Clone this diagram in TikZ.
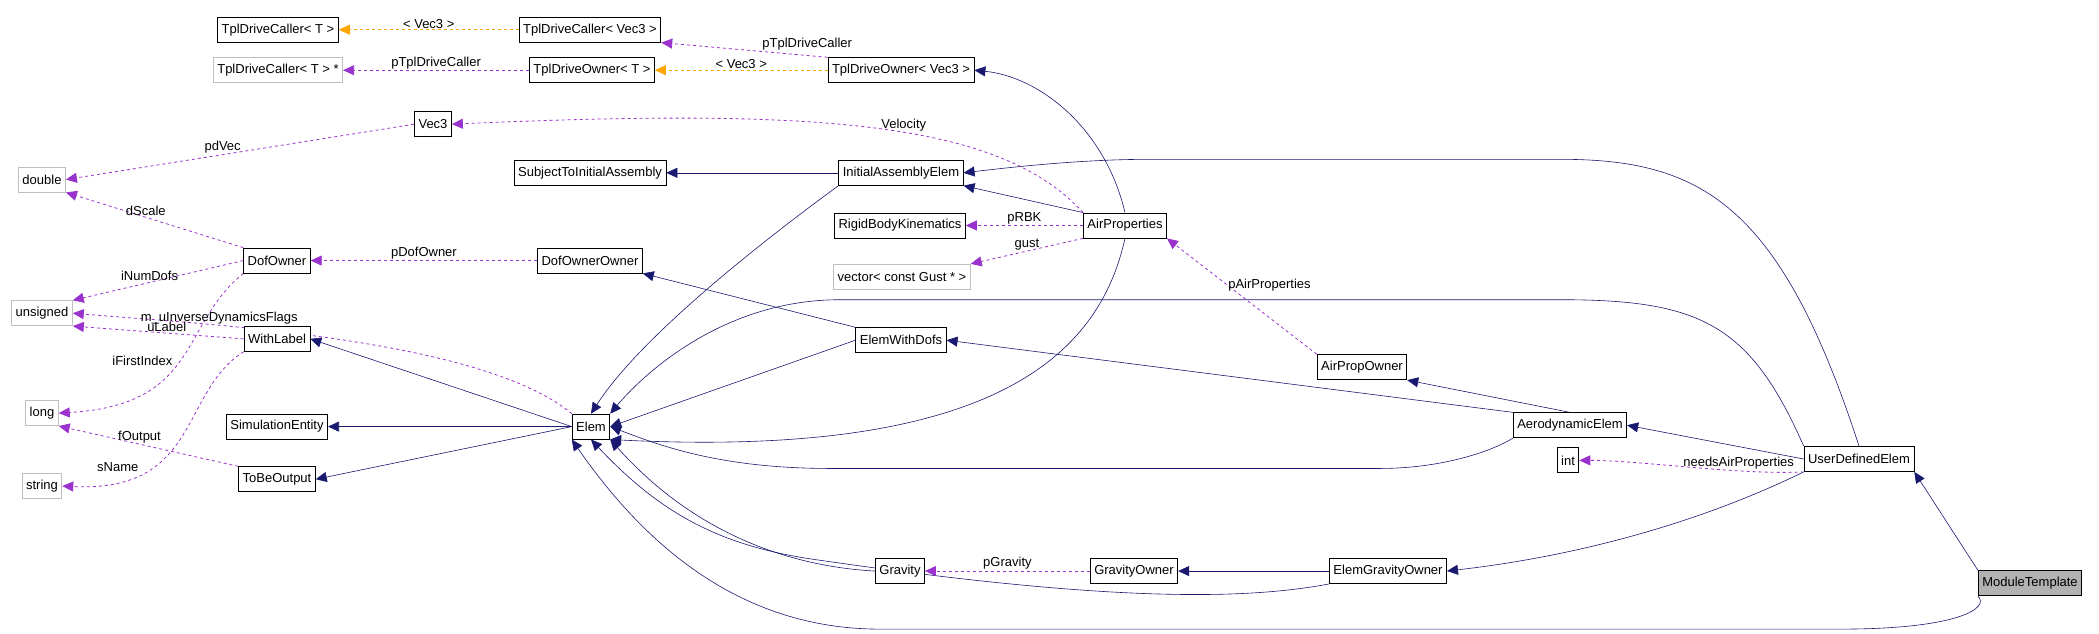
\documentclass[tikz,border=0pt]{standalone}
\usepackage{fontspec}
\setmainfont{Liberation Sans}
\usetikzlibrary{arrows.meta,positioning,backgrounds}
\definecolor{navyline}{HTML}{191970}
\definecolor{memline}{HTML}{9A32CD}
\definecolor{tplline}{HTML}{FFA500}
\begin{document}
\begin{tikzpicture}[x=1pt,y=-1.35pt,
    cls/.style={draw,thick,fill=white,font=\fontsize{13}{15}\selectfont,inner sep=4pt,minimum height=25pt},
    ext/.style={cls,draw=gray!50},
    main cls/.style={cls,fill=gray!60},
    inh/.style={draw=navyline,semithick,-{Triangle[length=11pt,width=10pt,fill=navyline]}},
    mem/.style={draw=memline,dashed,thick,-{Triangle[length=11pt,width=10pt,fill=memline]}},
    tpl/.style={draw=tplline,dashed,thick,-{Triangle[length=11pt,width=10pt,fill=tplline]}},
    lbl/.style={font=\fontsize{13}{15}\selectfont,inner sep=1pt}]
\useasboundingbox (0,0) rectangle (2099,469);

% classes
\node[cls] (tdcT) at (278,22) {TplDriveCaller< T >};
\node[cls] (tdcVec) at (590,22) {TplDriveCaller< Vec3 >};
\node[ext] (tdcTstar) at (278,52) {TplDriveCaller< T > *};
\node[cls] (tdoT) at (592,52) {TplDriveOwner< T >};
\node[cls] (tdoVec) at (901,52) {TplDriveOwner< Vec3 >};
\node[cls] (vec3) at (433,92) {Vec3};
\node[ext] (double) at (42,133) {double};
\node[cls] (subj) at (590,128) {SubjectToInitialAssembly};
\node[cls] (iae) at (901,128) {InitialAssemblyElem};
\node[cls] (rbk) at (900,167) {RigidBodyKinematics};
\node[cls] (airprop) at (1125,167) {AirProperties};
\node[ext] (gust) at (902,205) {vector< const Gust * >};
\node[cls] (dofown) at (277,193) {DofOwner};
\node[cls] (dofownown) at (590,193) {DofOwnerOwner};
\node[ext] (unsigned) at (42,232) {unsigned};
\node[cls] (withlabel) at (277,251) {WithLabel};
\node[cls] (ewd) at (901,252) {ElemWithDofs};
\node[cls] (apo) at (1362,272) {AirPropOwner};
\node[ext] (long) at (42,306) {long};
\node[cls] (simen) at (277,316) {SimulationEntity};
\node[cls] (elem) at (591,316) {Elem};
\node[cls] (aero) at (1570,315) {AerodynamicElem};
\node[cls] (ude) at (1859,340) {UserDefinedElem};
\node[cls] (int) at (1568,341) {int};
\node[cls] (tbo) at (277,355) {ToBeOutput};
\node[ext] (string) at (42,360) {string};
\node[cls] (gravity) at (900,423) {Gravity};
\node[cls] (gravown) at (1134,423) {GravityOwner};
\node[cls] (ego) at (1388,423) {ElemGravityOwner};
\node[main cls] (module) at (2030,432) {ModuleTemplate};

\begin{scope}[on background layer]
% inheritance
\draw[inh] (airprop.north) .. controls (1105,95) and (1040,57) .. (tdoVec.east);
\draw[inh] (iae) -- (subj);
\draw[inh] (airprop.north west) -- (iae.south east);
\draw[inh] (ude.north) .. controls (1780,150) and (1700,118) .. (1560,118) -- (1150,118) .. controls (1080,118) and (1010,124) .. (iae.east);
\draw[inh] (iae.south west) .. controls (760,180) and (640,250) .. (elem.north);
\draw[inh] (ewd.north west) -- (dofownown.south east);
\draw[inh] (ewd.west) -- (elem.east);
\draw[inh] (airprop.south) .. controls (1100,260) and (1000,340) .. (elem.south east);
\draw[inh] (ude.north west) .. controls (1750,240) and (1700,222) .. (1560,222) -- (840,222) .. controls (720,222) and (640,280) .. (elem.north east);
\draw[inh] (aero.north west) -- (ewd.east);
\draw[inh] (aero.south west) .. controls (1490,335) and (1440,347) .. (1380,347) -- (830,347) .. controls (720,347) and (660,330) .. (elem.east);
\draw[inh] (aero.north) -- (apo.south east);
\draw[inh] (ude.west) -- (aero.east);
\draw[inh] (ude.south west) .. controls (1720,380) and (1600,410) .. (ego.east);
\draw[inh] (ego) -- (gravown);
\draw[inh] (gravity.west) .. controls (800,420) and (700,400) .. (elem.south east);
\draw[inh] (ego.south west) .. controls (1240,445) and (1100,445) .. (820,415) .. controls (720,405) and (660,380) .. (elem.south);
\draw[inh] (module.south west) .. controls (1990,450) and (1960,466) .. (1840,466) -- (880,466) .. controls (760,466) and (660,420) .. (elem.south west);
\draw[inh] (module.north west) -- (ude.south east);
\draw[inh] (elem.west) -- (withlabel.east);
\draw[inh] (elem.west) -- (simen.east);
\draw[inh] (elem.west) -- (tbo.east);

% members
\draw[mem] (airprop.north west) .. controls (1000,90) and (820,80) .. node[lbl,above,pos=0.45] {Velocity} (vec3.east);
\draw[mem] (vec3.west) -- node[lbl,above,pos=0.55] {pdVec} (double.east);
\draw[mem] (dofown.north west) -- node[lbl,above,pos=0.55] {dScale} (double.south east);
\draw[mem] (dofown.west) -- node[lbl,above,pos=0.55] {iNumDofs} (unsigned.north east);
\draw[mem] (dofown.south west) .. controls (180,240) and (200,300) .. node[lbl,above left,pos=0.55] {iFirstIndex} (long.east);
\draw[mem] (dofownown) -- node[lbl,above] {pDofOwner} (dofown);
\draw[mem] (elem.north west) .. controls (480,250) and (200,240) .. node[lbl,above,pos=0.7] {m\_uInverseDynamicsFlags} (unsigned.east);
\draw[mem] (withlabel.west) -- node[lbl,above,pos=0.45] {uLabel} (unsigned.south east);
\draw[mem] (withlabel.south west) .. controls (180,290) and (200,365) .. node[lbl,above left,pos=0.75] {sName} (string.east);
\draw[mem] (tbo.north west) -- node[lbl,above,pos=0.55] {fOutput} (long.south east);
\draw[mem] (airprop.west) -- node[lbl,above,pos=0.5] {pRBK} (rbk.east);
\draw[mem] (airprop.south west) -- node[lbl,above,pos=0.5] {gust} (gust.north east);
\draw[mem] (apo.north west) -- node[lbl,right,pos=0.6] {pAirProperties} (airprop.south east);
\draw[mem] (ude.south west) .. controls (1740,352) and (1640,341) .. node[lbl,above,pos=0.3] {needsAirProperties} (int.east);
\draw[mem] (gravown) -- node[lbl,above] {pGravity} (gravity);
\draw[mem] (tdoVec.north west) -- node[lbl,above right,pos=0.4] {pTplDriveCaller} (tdcVec.south east);
\draw[mem] (tdoT) -- node[lbl,above] {pTplDriveCaller} (tdcTstar);

% template instances
\draw[tpl] (tdcVec) -- node[lbl,above] {< Vec3 >} (tdcT);
\draw[tpl] (tdoVec) -- node[lbl,above] {< Vec3 >} (tdoT);
\end{scope}
\end{tikzpicture}
\end{document}
